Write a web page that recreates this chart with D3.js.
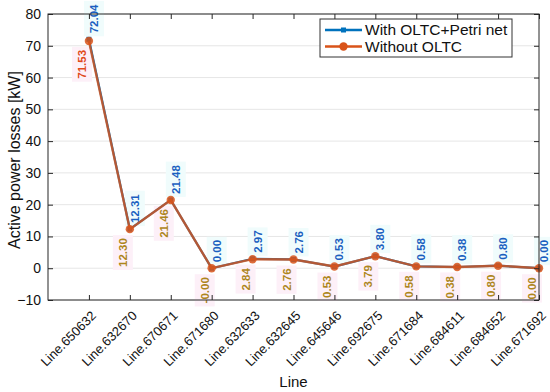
<!DOCTYPE html>
<html>
<head>
<meta charset="utf-8">
<script src="https://cdn.jsdelivr.net/npm/d3@7"></script>
<style>
  body { margin: 0; background: #fff; }
  text { font-family: "Liberation Sans", Arial, sans-serif; }
</style>
</head>
<body>
<div id="chart"></div>
<script>
// chart data
var lines = ["Line.650632", "Line.632670", "Line.670671", "Line.671680", "Line.632633", "Line.632645",
             "Line.645646", "Line.692675", "Line.671684", "Line.684611", "Line.684652", "Line.671692"];
var withOltc = [72.04, 12.31, 21.48, 0.00, 2.97, 2.76, 0.53, 3.80, 0.58, 0.38, 0.80, 0.00];
var withoutOltc = [71.53, 12.30, 21.46, -0.00, 2.84, 2.76, 0.53, 3.79, 0.58, 0.38, 0.80, 0.00];
var withLabels = ["72.04", "12.31", "21.48", "0.00", "2.97", "2.76", "0.53", "3.80", "0.58", "0.38", "0.80", "0.00"];
var withoutLabels = ["71.53", "12.30", "21.46", "-0.00", "2.84", "2.76", "0.53", "3.79", "0.58", "0.38", "0.80", "0.00"];
var yTicks = [-10, 0, 10, 20, 30, 40, 50, 60, 70, 80];

var width = 550, height = 392;
var margin = {top: 14, left: 48, right: 11, bottom: 92};

var svg = d3.select("#chart").append("svg")
    .attr("width", width)
    .attr("height", height);

var xScale = d3.scaleLinear()
    .domain([0, lines.length])
    .range([margin.left, width - margin.right]);

var yScale = d3.scaleLinear()
    .domain([-10, 80])
    .range([height - margin.bottom, margin.top]);

var blue = "#0072BD", orange = "#D95319";

// grid
svg.append("g").selectAll("line")
    .data(yTicks)
    .enter().append("line")
    .attr("x1", margin.left).attr("x2", width - margin.right)
    .attr("y1", function(d) { return yScale(d); })
    .attr("y2", function(d) { return yScale(d); })
    .attr("stroke", "#e6e6e6")
    .attr("stroke-width", 1);

var idx = d3.range(lines.length);

// label backgrounds and labels
function addLabels(values, labels, above, color, bg) {
  var g = svg.append("g");
  idx.forEach(function(i) {
    var x = xScale(i + 1) + (above ? 5 : -7);
    var y = yScale(values[i]) + (above ? -6 : 9);
    var t = g.append("text")
      .attr("transform", "translate(" + x + "," + y + ") rotate(-90)")
      .attr("text-anchor", above ? "start" : "end")
      .attr("dy", "0.35em")
      .attr("font-size", 11.5)
      .attr("font-weight", "bold")
      .attr("fill", typeof color === "function" ? color(i) : color)
      .text(labels[i]);
    var bb = t.node().getBBox();
    g.insert("rect", "text")
      .attr("transform", "translate(" + x + "," + y + ") rotate(-90)")
      .attr("x", bb.x - 3).attr("y", bb.y - 4)
      .attr("width", bb.width + 6).attr("height", bb.height + 8)
      .attr("fill", bg);
  });
}

addLabels(withLabels, withLabels, true, "#1a5fc0", "#f0fcfc");
addLabels(withoutOltc, withoutLabels, false, function(i) { return i === 0 ? "#e0491a" : "#ad861c"; }, "#fdf0f8");

// series lines
var lineGen = function(vals) {
  return d3.line()
    .x(function(i) { return xScale(i + 1); })
    .y(function(i) { return yScale(vals[i]); })(idx);
};

svg.append("path")
    .attr("d", lineGen(withOltc))
    .attr("fill", "none")
    .attr("stroke", blue)
    .attr("stroke-width", 2.2);

svg.selectAll(".sq")
    .data(idx)
    .enter().append("rect")
    .attr("x", function(i) { return xScale(i + 1) - 2.5; })
    .attr("y", function(i) { return yScale(withOltc[i]) - 2.5; })
    .attr("width", 5).attr("height", 5)
    .attr("fill", blue);

svg.append("path")
    .attr("d", lineGen(withoutOltc))
    .attr("fill", "none")
    .attr("stroke", orange)
    .attr("stroke-opacity", 0.82)
    .attr("stroke-width", 2.4);

svg.selectAll(".dot")
    .data(idx)
    .enter().append("circle")
    .attr("cx", function(i) { return xScale(i + 1); })
    .attr("cy", function(i) { return yScale(withoutOltc[i]); })
    .attr("r", 4.2)
    .attr("fill", orange)
    .attr("fill-opacity", 0.85);

// axes box
var axisColor = "#262626";
var xAxisGen = d3.axisBottom(xScale)
    .tickValues(d3.range(1, lines.length + 1))
    .tickSize(-5)
    .tickFormat(function(d) { return lines[d - 1]; });

var xAxis = svg.append("g")
    .attr("transform", "translate(0," + (height - margin.bottom) + ")")
    .call(xAxisGen);
xAxis.select(".domain").remove();
xAxis.selectAll(".tick line").attr("stroke", axisColor);
xAxis.selectAll(".tick text")
    .attr("font-size", 13)
    .attr("fill", "#111")
    .attr("text-anchor", "end")
    .attr("transform", "translate(1,10) rotate(-45)")
    .attr("dy", "0.7em")
    .attr("y", 0).attr("x", 0);

var xTop = svg.append("g")
    .attr("transform", "translate(0," + margin.top + ")")
    .call(d3.axisTop(xScale).tickValues(d3.range(1, lines.length + 1)).tickSize(-5).tickFormat(""));
xTop.select(".domain").remove();
xTop.selectAll(".tick line").attr("stroke", axisColor);

var yAxis = svg.append("g")
    .attr("transform", "translate(" + margin.left + ",0)")
    .call(d3.axisLeft(yScale).tickValues(yTicks).tickSize(-5).tickPadding(7));
yAxis.select(".domain").remove();
yAxis.selectAll(".tick line").attr("stroke", axisColor);
yAxis.selectAll(".tick text").attr("font-size", 14).attr("fill", "#111");

var yRight = svg.append("g")
    .attr("transform", "translate(" + (width - margin.right) + ",0)")
    .call(d3.axisRight(yScale).tickValues(yTicks).tickSize(-5).tickFormat(""));
yRight.select(".domain").remove();
yRight.selectAll(".tick line").attr("stroke", axisColor);

svg.append("rect")
    .attr("x", margin.left).attr("y", margin.top)
    .attr("width", width - margin.left - margin.right)
    .attr("height", height - margin.top - margin.bottom)
    .attr("fill", "none")
    .attr("stroke", axisColor)
    .attr("stroke-width", 1);

// axis titles
svg.append("text")
    .attr("transform", "translate(14,160) rotate(-90)")
    .attr("text-anchor", "middle")
    .attr("dy", "0.35em")
    .attr("font-size", 16)
    .attr("fill", "#111")
    .text("Active power losses [kW]");

svg.append("text")
    .attr("x", (margin.left + width - margin.right) / 2)
    .attr("y", 387)
    .attr("text-anchor", "middle")
    .attr("font-size", 15)
    .attr("fill", "#111")
    .text("Line");

// legend
var legend = svg.append("g").attr("transform", "translate(320,19)");
legend.append("rect")
    .attr("width", 192).attr("height", 38)
    .attr("fill", "#fff")
    .attr("stroke", "#333")
    .attr("stroke-width", 1);
var legendItems = [
  {name: "With OLTC+Petri net", color: blue, shape: "square"},
  {name: "Without OLTC", color: orange, shape: "circle"}
];
legendItems.forEach(function(d, i) {
  var y = 11 + i * 16.5;
  legend.append("line")
    .attr("x1", 5).attr("x2", 42)
    .attr("y1", y).attr("y2", y)
    .attr("stroke", d.color).attr("stroke-width", 2.4);
  if (d.shape === "square") {
    legend.append("rect").attr("x", 21).attr("y", y - 2.5).attr("width", 5).attr("height", 5).attr("fill", d.color);
  } else {
    legend.append("circle").attr("cx", 23.5).attr("cy", y).attr("r", 4.2).attr("fill", d.color);
  }
  legend.append("text")
    .attr("x", 45).attr("y", y)
    .attr("dy", "0.35em")
    .attr("font-size", 15.5)
    .attr("fill", "#111")
    .text(d.name);
});
</script>
</body>
</html>
